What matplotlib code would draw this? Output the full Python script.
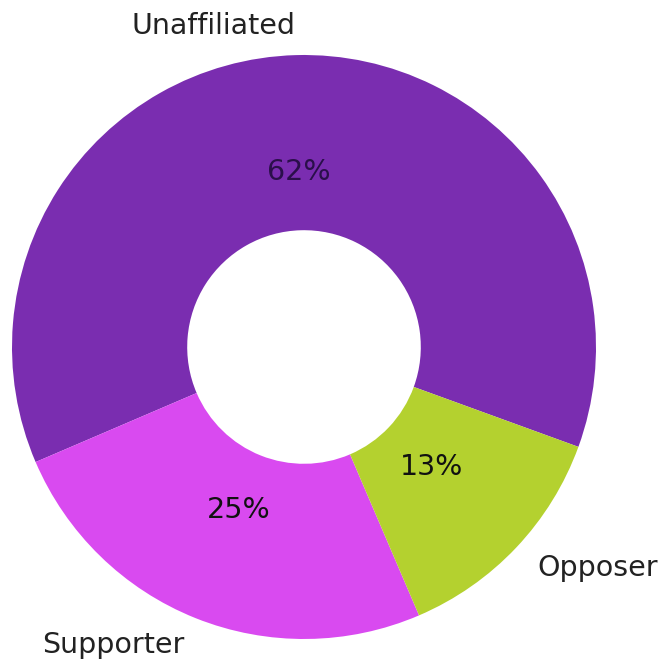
import matplotlib.pyplot as plt

# data
labels = ["Unaffiliated", "Supporter", "Opposer"]
shares = [62, 25, 13]
colors = ["#7a2db0", "#d94af0", "#b4d12f"]

fig = plt.figure(figsize=(6.63, 6.61), dpi=100)
ax = fig.add_axes([0, 0, 1, 1])

# donut: outer radius 1, hole radius ~0.4
wedges, texts, autotexts = ax.pie(shares, labels=labels, colors=colors,
                                  autopct="%1.0f%%", startangle=-20,
                                  labeldistance=1.1, pctdistance=0.6,
                                  wedgeprops=dict(width=0.6),
                                  textprops=dict(fontsize=20.5))
for t in texts:
    t.set_color("#222222")
for t in autotexts:
    t.set_color("#111111")
autotexts[0].set_color("#2a0f4a")

# pie center at about (304, 347) px, radius 292 px
r = 292.0
ax.set_xlim(-304 / r, (663 - 304) / r)
ax.set_ylim(-(661 - 347) / r, 347 / r)
ax.set_aspect("auto")
ax.axis("off")

fig.savefig("out.png", dpi=100)
